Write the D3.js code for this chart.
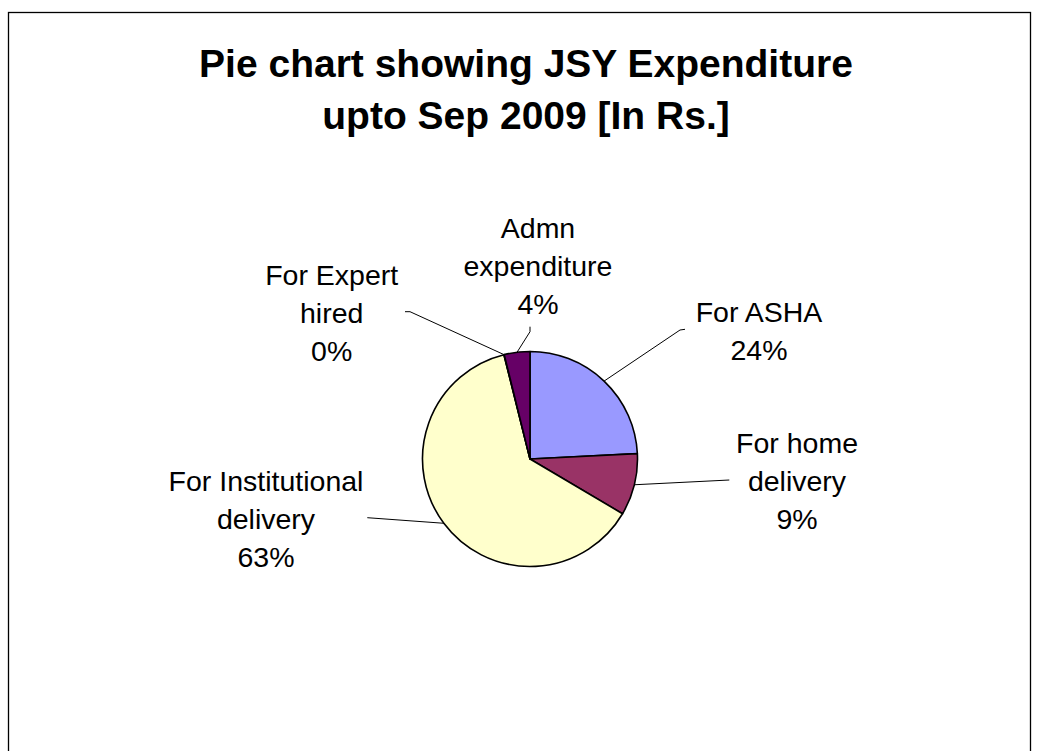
<!DOCTYPE html>
<html>
<head>
<meta charset="utf-8">
<script src="https://cdn.jsdelivr.net/npm/d3@7"></script>
<style>
  html, body { margin: 0; padding: 0; background: #fff; }
  svg { display: block; }
  text { font-family: "Liberation Sans", Arial, sans-serif; fill: #000; }
</style>
</head>
<body>
<svg id="canvas" width="1039" height="751"></svg>
<script>
// data, clockwise from 12 o'clock
var categories = ["For ASHA", "For home delivery", "For Institutional delivery", "For Expert hired", "Admn expenditure"];
var values = [24.2, 9.3, 62.6, 0.05, 3.85];
var colors = ["#9999FF", "#993366", "#FFFFCC", "#CCFFFF", "#660066"];
var labelLines = [["For ASHA"], ["For home", "delivery"], ["For Institutional", "delivery"], ["For Expert", "hired"], ["Admn", "expenditure"]];
var titleLines = ["Pie chart showing JSY Expenditure", "upto Sep 2009 [In Rs.]"];

// layout for the labels: text centre x, first baseline y, and leader elbow points
var labelPos = [
	{x: 759, y: 321.7, line: [[680, 330], [685, 329.3]]},
	{x: 797, y: 453, line: [[729.3, 480]]},
	{x: 266, y: 490.7, line: [[367.3, 517.7]]},
	{x: 331.7, y: 285, line: [[410, 311.7], [405, 311.7]]},
	{x: 538, y: 237.5, line: [[530, 331.7], [530, 326.7]]}
];

var canvas_width = 1039;
var cx = 530, cy = 459, radius = 107.5;
var lineStep = 38;

var svg = d3.select("#canvas");

// frame
svg.append("rect")
	.attr("x", 8.5).attr("y", 12.5)
	.attr("width", 1022).attr("height", 800)
	.attr("fill", "none")
	.attr("stroke", "#000")
	.attr("stroke-width", 1.3);

// title
svg.append("text")
	.attr("x", 526)
	.attr("text-anchor", "middle")
	.style("font-weight", "bold")
	.style("font-size", "39px")
	.selectAll("tspan").data(titleLines).enter()
	.append("tspan")
	.attr("x", 526)
	.attr("y", function (d, i) {return 77 + i * 51.5;})
	.text(function (d) {return d;});

var total = d3.sum(values);
var data = categories.map(function (c, i) {return {name: c, value: values[i], i: i};});

var pie = d3.pie().sort(null).value(function (d) {return d.value;});
var arcs = pie(data);

var arc = d3.arc().innerRadius(0).outerRadius(radius);
var edge = d3.arc().innerRadius(radius).outerRadius(radius);

var g = svg.append("g").attr("transform", "translate(" + cx + "," + cy + ")");

g.selectAll("path").data(arcs).enter()
	.append("path")
	.attr("d", arc)
	.attr("fill", function (d) {return colors[d.data.i];})
	.attr("stroke", "#000")
	.attr("stroke-width", 1.6)
	.attr("stroke-linejoin", "round");

// leader lines
svg.selectAll("polyline.leader").data(arcs).enter()
	.append("polyline")
	.attr("class", "leader")
	.attr("fill", "none")
	.attr("stroke", "#000")
	.attr("stroke-width", 1)
	.attr("points", function (d) {
		var c = edge.centroid(d);
		var pts = [[cx + c[0], cy + c[1]]].concat(labelPos[d.data.i].line);
		return pts.map(function (p) {return p.join(",");}).join(" ");
	});

// labels
var labels = svg.selectAll("text.lbl").data(arcs).enter()
	.append("text")
	.attr("class", "lbl")
	.attr("text-anchor", "middle")
	.style("font-size", "28.5px");

labels.each(function (d) {
	var pos = labelPos[d.data.i];
	var lines = labelLines[d.data.i].concat([Math.round(d.data.value / total * 100) + "%"]);
	d3.select(this).selectAll("tspan").data(lines).enter()
		.append("tspan")
		.attr("x", pos.x)
		.attr("y", function (t, k) {return pos.y + k * lineStep;})
		.text(function (t) {return t;});
});
</script>
</body>
</html>
